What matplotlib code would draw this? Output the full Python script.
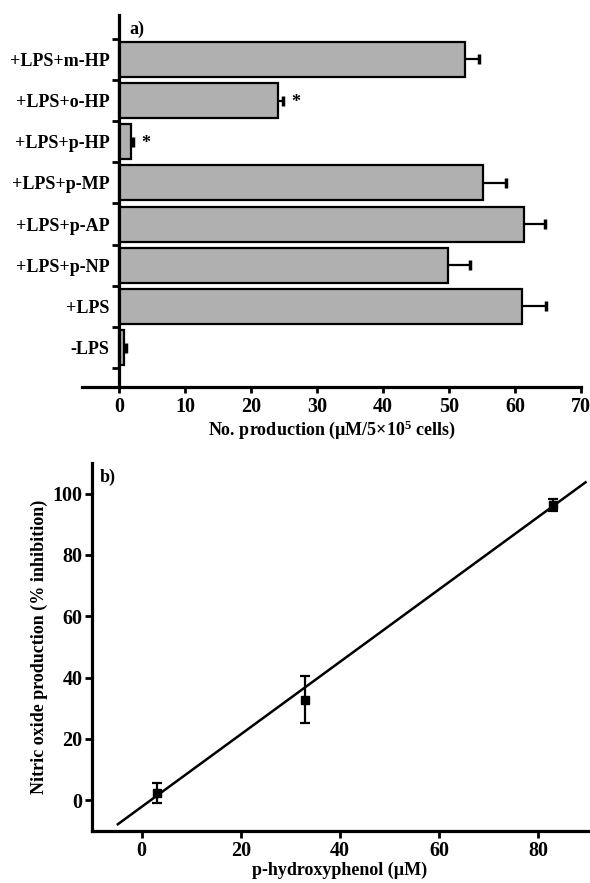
import matplotlib
matplotlib.use('Agg')
import matplotlib.pyplot as plt
import numpy as np

# panel a data (top to bottom)
treatments = ['+LPS+m-HP', '+LPS+o-HP', '+LPS+p-HP', '+LPS+p-MP',
              '+LPS+p-AP', '+LPS+p-NP', '+LPS', '-LPS']
no_production = [52.4, 24.1, 1.8, 55.2, 61.4, 49.8, 61.1, 0.75]
no_error = [2.1, 0.7, 0.3, 3.4, 3.1, 3.4, 3.6, 0.3]
significant = [False, True, True, False, False, False, False, False]

# panel b data
conc = [3, 33, 83]
inhibition = [2.3, 32.8, 96.3]
inhibition_err = [3.3, 7.6, 2.0]
fit_x = [-4.8, 89.5]
fit_y = [-7.8, 103.7]

plt.rcParams['font.family'] = 'Liberation Serif'
plt.rcParams['font.weight'] = 'bold'
plt.rcParams['axes.labelweight'] = 'bold'
plt.rcParams['mathtext.fontset'] = 'custom'
plt.rcParams['mathtext.rm'] = 'Liberation Serif:bold'
plt.rcParams['mathtext.it'] = 'Liberation Serif:italic:bold'
plt.rcParams['mathtext.bf'] = 'Liberation Serif:bold'

FS = 13
TFS = 14.5
fig = plt.figure(figsize=(5.9, 8.83), dpi=100)

# ---- panel a ----
ax1 = fig.add_axes([0.139, 0.5617, 0.846, 0.4213])
ypos = np.arange(len(treatments))
ax1.barh(ypos, no_production, height=0.85, color='#b0b0b0', edgecolor='black',
         linewidth=1.6, zorder=2)
eb = ax1.errorbar(no_production, ypos, xerr=[np.zeros(len(no_error)), no_error],
                  fmt='none', ecolor='black', elinewidth=1.6, capsize=3.5, capthick=2.5, zorder=3)
eb[1][0].set_visible(False)  # no cap at the bar end
for i, s in enumerate(significant):
    if s:
        ax1.text(no_production[i] + no_error[i] + 2.0, ypos[i] + 0.05, '*',
                 fontsize=FS, ha='center', va='center')

ax1.set_xlim(-5.6, 70)
ax1.set_ylim(7.96, -1.08)
for s in ['top', 'right']:
    ax1.spines[s].set_visible(False)
ax1.spines['left'].set_position(('data', 0))
for s in ['left', 'bottom']:
    ax1.spines[s].set_linewidth(2.3)
ax1.set_xticks(range(0, 71, 10))
ax1.set_yticks(ypos)
ax1.set_yticklabels(treatments)
ax1.set_yticks(np.arange(-0.5, len(treatments), 1.0), minor=True)
ax1.tick_params(axis='y', which='major', length=0, pad=7, labelsize=FS)
ax1.tick_params(axis='y', which='minor', length=5, width=2, direction='out')
ax1.tick_params(axis='x', length=4, width=2, pad=3, labelsize=TFS)
ax1.set_xlabel('No. production (µM/5×10$^{5}$ cells)', fontsize=FS, labelpad=1)
ax1.text(0.095, 0.985, 'a)', transform=ax1.transAxes, fontsize=FS, ha='left', va='top')

# ---- panel b ----
ax2 = fig.add_axes([0.156, 0.0589, 0.8407, 0.4168])
ax2.plot(fit_x, fit_y, color='black', linewidth=1.8, zorder=2)
ax2.errorbar(conc, inhibition, yerr=inhibition_err, fmt='s', color='black',
             markersize=6, elinewidth=1.6, capsize=3.5, capthick=1.6, zorder=3)
ax2.set_xlim(-10, 90)
ax2.set_ylim(-10, 110)
for s in ['top', 'right']:
    ax2.spines[s].set_visible(False)
for s in ['left', 'bottom']:
    ax2.spines[s].set_linewidth(2.3)
ax2.set_xticks(range(0, 81, 20))
ax2.set_yticks(range(0, 101, 20))
ax2.tick_params(length=5, width=2, pad=2, labelsize=TFS)
ax2.set_xlabel('p-hydroxyphenol (µM)', fontsize=FS, labelpad=1)
ax2.set_ylabel('Nitric oxide production (% inhibition)', fontsize=FS, labelpad=3)
ax2.text(0.015, 0.985, 'b)', transform=ax2.transAxes, fontsize=FS, ha='left', va='top')

fig.savefig('out.png', dpi=100)
